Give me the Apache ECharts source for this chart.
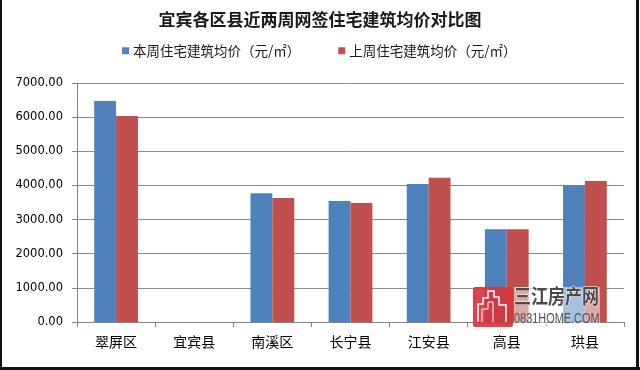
<!DOCTYPE html>
<html>
<head>
<meta charset="utf-8">
<script src="https://cdn.jsdelivr.net/npm/echarts@6/dist/echarts.min.js"></script>
<style>
html,body{margin:0;padding:0;background:#fff;}
#chart{width:640px;height:370px;}
</style>
</head>
<body>
<div id="chart"></div>
<script>
var titleText = '宜宾各区县近两周网签住宅建筑均价对比图';
var categories = ['翠屏区', '宜宾县', '南溪区', '长宁县', '江安县', '高县', '珙县'];
var seriesNames = ['本周住宅建筑均价（元/㎡）', '上周住宅建筑均价（元/㎡）'];
var thisWeek = [6475, null, 3770, 3545, 4040, 2715, 4005];
var lastWeek = [6035, null, 3630, 3485, 4225, 2715, 4130];
var yTicks = { min: 0, max: 7000, interval: 1000 };

var chart = echarts.init(document.getElementById('chart'), null, { renderer: 'canvas' });
var cjk = '"Noto Sans CJK SC", sans-serif';
var Z = 100;
var option = {
  backgroundColor: '#ffffff',
  animation: false,
  title: {
    text: titleText,
    left: 'center',
    top: 11,
    padding: 0,
    textStyle: { fontFamily: cjk, fontSize: 17, fontWeight: 'bold', color: '#1a1a1a' }
  },
  legend: {
    data: seriesNames,
    left: 122,
    top: 44,
    padding: 0,
    itemWidth: 7,
    itemHeight: 7,
    itemGap: 38,
    icon: 'rect',
    textStyle: { fontFamily: cjk, fontSize: 13.5, color: '#1a1a1a', padding: [0, 0, 0, -1] }
  },
  grid: { left: 77, right: 16, top: 83, bottom: 48, containLabel: false },
  xAxis: {
    type: 'category',
    data: categories,
    axisLine: { lineStyle: { color: '#868686', width: 1 } },
    axisTick: { show: true, length: 5, alignWithLabel: false, lineStyle: { color: '#868686' } },
    axisLabel: { margin: 13, fontFamily: cjk, fontSize: 14, color: '#000' }
  },
  yAxis: {
    type: 'value',
    min: yTicks.min,
    max: yTicks.max,
    interval: yTicks.interval,
    axisLine: { show: true, lineStyle: { color: '#868686', width: 1 } },
    axisTick: { show: true, length: 5, lineStyle: { color: '#868686' } },
    splitLine: { show: true, lineStyle: { color: '#8c8c8c', width: 1 } },
    axisLabel: {
      margin: 14,
      fontFamily: '"DejaVu Sans", sans-serif',
      fontSize: 11.5,
      color: '#000',
      formatter: function (v) { return v.toFixed(2); }
    }
  },
  series: [
    { name: seriesNames[0], type: 'bar', data: thisWeek, barWidth: '28%', barGap: '0%',
      itemStyle: { color: '#4F81BD' } },
    { name: seriesNames[1], type: 'bar', data: lastWeek, barWidth: '28%', barGap: '0%',
      itemStyle: { color: '#C0504D' } }
  ],
  graphic: [
    { type: 'rect', z: Z, shape: { x: 0, y: 0, width: 2, height: 370 }, style: { fill: '#111' } },
    { type: 'rect', z: Z, shape: { x: 636, y: 0, width: 3, height: 370 }, style: { fill: '#111' } },
    { type: 'rect', z: Z, shape: { x: 0, y: 367, width: 640, height: 3 }, style: { fill: '#111' } },
    { type: 'rect', z: Z, shape: { x: 473, y: 287, width: 40, height: 40, r: 2 }, style: { fill: '#d8343c', opacity: 0.92 } },
    { type: 'polyline', z: Z + 1, shape: { points: [[478, 322], [478, 304], [483, 304], [483, 298], [488, 298], [488, 291], [494, 291], [494, 297], [499, 297], [499, 305], [506, 305], [506, 322]] },
      style: { stroke: '#fff', lineWidth: 1.5, fill: null } },
    { type: 'polyline', z: Z + 1, shape: { points: [[482, 322], [482, 309], [488, 309], [488, 302], [493, 302], [493, 322]] },
      style: { stroke: '#fff', lineWidth: 1, fill: null } },
    { type: 'rect', z: Z, shape: { x: 514, y: 287, width: 86, height: 42 }, style: { fill: 'rgba(255,255,255,0.5)' } },
    { type: 'text', z: Z + 1, x: 514, y: 286, scaleX: 0.85, scaleY: 1,
      style: { x: 0, y: 0, text: '三江房产网', fontFamily: cjk, fontSize: 20, fontWeight: 'bold',
        fill: '#4a4a4a', stroke: '#fff', lineWidth: 1 } },
    { type: 'text', z: Z + 1, x: 514, y: 312, scaleX: 0.78, scaleY: 1,
      style: { x: 0, y: 0, text: '0831HOME.COM', fontFamily: '"Liberation Sans", sans-serif',
        fontSize: 14, fill: '#555' } }
  ]
};
chart.setOption(option);
</script>
</body>
</html>
